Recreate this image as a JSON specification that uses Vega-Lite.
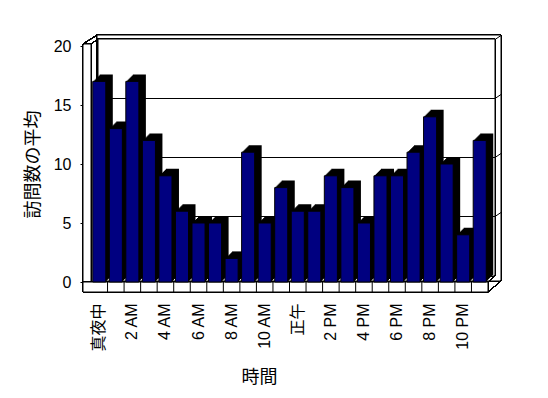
{
  "$schema": "https://vega.github.io/schema/vega-lite/v6.json",
  "width": 397,
  "height": 236,
  "autosize": "none",
  "padding": {"left": 91, "top": 46, "right": 60, "bottom": 116},
  "background": "white",
  "config": {"view": {"stroke": null}},
  "datasets": {
    "bars": [
      {"hour": "真夜中", "visits": 17},
      {"hour": "1 AM", "visits": 13},
      {"hour": "2 AM", "visits": 17},
      {"hour": "3 AM", "visits": 12},
      {"hour": "4 AM", "visits": 9},
      {"hour": "5 AM", "visits": 6},
      {"hour": "6 AM", "visits": 5},
      {"hour": "7 AM", "visits": 5},
      {"hour": "8 AM", "visits": 2},
      {"hour": "9 AM", "visits": 11},
      {"hour": "10 AM", "visits": 5},
      {"hour": "11 AM", "visits": 8},
      {"hour": "正午", "visits": 6},
      {"hour": "1 PM", "visits": 6},
      {"hour": "2 PM", "visits": 9},
      {"hour": "3 PM", "visits": 8},
      {"hour": "4 PM", "visits": 5},
      {"hour": "5 PM", "visits": 9},
      {"hour": "6 PM", "visits": 9},
      {"hour": "7 PM", "visits": 11},
      {"hour": "8 PM", "visits": 14},
      {"hour": "9 PM", "visits": 10},
      {"hour": "10 PM", "visits": 4},
      {"hour": "11 PM", "visits": 12}
    ],
    "grid": [{"v": 5}, {"v": 10}, {"v": 15}, {"v": 20}]
  },
  "layer": [
    {
      "data": {"name": "bars"},
      "mark": {"type": "rect", "fill": "white", "stroke": "black", "strokeWidth": 1, "xOffset": 6, "x2Offset": 13, "yOffset": -11, "y2Offset": -1},
      "encoding": {
        "x": {"datum": "真夜中", "type": "nominal", "bandPosition": 0},
        "x2": {"datum": "11 PM", "bandPosition": 1},
        "y": {"datum": 20, "type": "quantitative", "scale": {"domain": [0, 20], "nice": false}},
        "y2": {"datum": 0}
      }
    },
    {
      "data": {"name": "bars"},
      "mark": {"type": "rect", "fill": "white", "stroke": "black", "strokeWidth": 1, "xOffset": 7, "x2Offset": 7, "yOffset": -7, "y2Offset": -6},
      "encoding": {
        "x": {"datum": "真夜中", "type": "nominal", "bandPosition": 0},
        "x2": {"datum": "11 PM", "bandPosition": 1},
        "y": {"datum": 20, "type": "quantitative"},
        "y2": {"datum": 0}
      }
    },
    {
      "data": {"name": "grid"},
      "transform": [{"filter": "datum.v < 20"}],
      "mark": {"type": "rule", "color": "black", "strokeWidth": 1, "xOffset": 7, "x2Offset": 7, "yOffset": -6.5, "y2Offset": -6.5},
      "encoding": {
        "x": {"datum": "真夜中", "type": "nominal", "bandPosition": 0},
        "x2": {"datum": "11 PM", "bandPosition": 1},
        "y": {"field": "v", "type": "quantitative"},
        "y2": {"field": "v"}
      }
    },
    {
      "data": {"name": "grid"},
      "mark": {"type": "rule", "color": "black", "strokeWidth": 1, "xOffset": 7, "x2Offset": 13, "yOffset": -6.5, "y2Offset": -10.5},
      "encoding": {
        "x": {"datum": "11 PM", "type": "nominal", "bandPosition": 1},
        "x2": {"datum": "11 PM", "bandPosition": 1},
        "y": {"field": "v", "type": "quantitative"},
        "y2": {"field": "v"}
      }
    },
    {
      "data": {"name": "bars"},
      "mark": {"type": "rule", "color": "black", "strokeWidth": 1, "xOffset": 0, "x2Offset": 13, "yOffset": 10, "y2Offset": -1},
      "encoding": {
        "x": {"datum": "11 PM", "type": "nominal", "bandPosition": 1},
        "x2": {"datum": "11 PM", "bandPosition": 1},
        "y": {"datum": 0, "type": "quantitative"},
        "y2": {"datum": 0}
      }
    },
    {
      "data": {"name": "bars"},
      "mark": {"type": "rule", "color": "black", "strokeWidth": 1, "xOffset": 0, "x2Offset": 7, "yOffset": 0, "y2Offset": -6},
      "encoding": {
        "x": {"datum": "11 PM", "type": "nominal", "bandPosition": 1},
        "x2": {"datum": "11 PM", "bandPosition": 1},
        "y": {"datum": 0, "type": "quantitative"},
        "y2": {"datum": 0}
      }
    },
    {
      "data": {"name": "bars"},
      "mark": {"type": "rect", "fill": "white", "stroke": "black", "strokeWidth": 1, "xOffset": -8, "x2Offset": 0, "yOffset": -2, "y2Offset": 10},
      "encoding": {
        "x": {"datum": "真夜中", "type": "nominal", "bandPosition": 0},
        "x2": {"datum": "真夜中", "bandPosition": 0},
        "y": {"datum": 20, "type": "quantitative"},
        "y2": {"datum": 0}
      }
    },
    {
      "data": {"name": "bars"},
      "mark": {"type": "rule", "color": "black", "strokeWidth": 1, "xOffset": -8, "x2Offset": 6, "yOffset": -2, "y2Offset": -11},
      "encoding": {
        "x": {"datum": "真夜中", "type": "nominal", "bandPosition": 0},
        "x2": {"datum": "真夜中", "bandPosition": 0},
        "y": {"datum": 20, "type": "quantitative"},
        "y2": {"datum": 20}
      }
    },
    {
      "data": {"name": "bars"},
      "mark": {"type": "rule", "color": "black", "strokeWidth": 1, "xOffset": 0, "x2Offset": 7, "yOffset": -2, "y2Offset": -7},
      "encoding": {
        "x": {"datum": "真夜中", "type": "nominal", "bandPosition": 0},
        "x2": {"datum": "真夜中", "bandPosition": 0},
        "y": {"datum": 20, "type": "quantitative"},
        "y2": {"datum": 20}
      }
    },
    {
      "data": {"name": "bars"},
      "mark": {"type": "rect", "fill": "white", "stroke": "black", "strokeWidth": 1, "xOffset": -8, "x2Offset": 0, "yOffset": 0, "y2Offset": 10},
      "encoding": {
        "x": {"datum": "真夜中", "type": "nominal", "bandPosition": 0},
        "x2": {"datum": "11 PM", "bandPosition": 1},
        "y": {"datum": 0, "type": "quantitative"},
        "y2": {"datum": 0}
      }
    },
    {
      "data": {"name": "bars"},
      "transform": [{"filter": "datum.hour !== '真夜中'"}],
      "mark": {"type": "rule", "color": "black", "strokeWidth": 1, "y2Offset": 10},
      "encoding": {
        "x": {"field": "hour", "type": "nominal", "bandPosition": 0, "sort": null},
        "y": {"datum": 0, "type": "quantitative"},
        "y2": {"datum": 0}
      }
    },
    {
      "data": {"name": "bars"},
      "mark": {"type": "bar", "color": "black", "width": {"band": 0.79}, "xOffset": 1, "yOffset": -1, "y2Offset": -1},
      "encoding": {"x": {"field": "hour", "type": "nominal", "sort": null}, "y": {"field": "visits", "type": "quantitative"}}
    },
    {
      "data": {"name": "bars"},
      "mark": {"type": "bar", "color": "black", "width": {"band": 0.79}, "xOffset": 2, "yOffset": -2, "y2Offset": -2},
      "encoding": {"x": {"field": "hour", "type": "nominal", "sort": null}, "y": {"field": "visits", "type": "quantitative"}}
    },
    {
      "data": {"name": "bars"},
      "mark": {"type": "bar", "color": "black", "width": {"band": 0.79}, "xOffset": 3, "yOffset": -3, "y2Offset": -3},
      "encoding": {"x": {"field": "hour", "type": "nominal", "sort": null}, "y": {"field": "visits", "type": "quantitative"}}
    },
    {
      "data": {"name": "bars"},
      "mark": {"type": "bar", "color": "black", "width": {"band": 0.79}, "xOffset": 4, "yOffset": -4, "y2Offset": -4},
      "encoding": {"x": {"field": "hour", "type": "nominal", "sort": null}, "y": {"field": "visits", "type": "quantitative"}}
    },
    {
      "data": {"name": "bars"},
      "mark": {"type": "bar", "color": "black", "width": {"band": 0.79}, "xOffset": 5, "yOffset": -5, "y2Offset": -5},
      "encoding": {"x": {"field": "hour", "type": "nominal", "sort": null}, "y": {"field": "visits", "type": "quantitative"}}
    },
    {
      "data": {"name": "bars"},
      "mark": {"type": "bar", "color": "black", "width": {"band": 0.79}, "xOffset": 6, "yOffset": -6, "y2Offset": -6},
      "encoding": {"x": {"field": "hour", "type": "nominal", "sort": null}, "y": {"field": "visits", "type": "quantitative"}}
    },
    {
      "data": {"name": "bars"},
      "mark": {"type": "bar", "color": "black", "width": {"band": 0.79}, "xOffset": 7, "yOffset": -7, "y2Offset": -7},
      "encoding": {"x": {"field": "hour", "type": "nominal", "sort": null}, "y": {"field": "visits", "type": "quantitative"}}
    },
    {
      "data": {"name": "bars"},
      "mark": {"type": "bar", "fill": "#000080", "stroke": "black", "strokeWidth": 1, "width": {"band": 0.79}},
      "encoding": {
        "x": {
          "field": "hour",
          "type": "nominal",
          "sort": null,
          "scale": {"domain": ["真夜中", "1 AM", "2 AM", "3 AM", "4 AM", "5 AM", "6 AM", "7 AM", "8 AM", "9 AM", "10 AM", "11 AM", "正午", "1 PM", "2 PM", "3 PM", "4 PM", "5 PM", "6 PM", "7 PM", "8 PM", "9 PM", "10 PM", "11 PM"], "paddingInner": 0, "paddingOuter": 0},
          "axis": {
            "title": "時間",
            "values": ["真夜中", "2 AM", "4 AM", "6 AM", "8 AM", "10 AM", "正午", "2 PM", "4 PM", "6 PM", "8 PM", "10 PM"],
            "labelAngle": -90,
            "labelAlign": "right",
            "labelBaseline": "middle",
            "labelFont": "Liberation Sans, Noto Sans CJK JP",
            "labelFontSize": 16,
            "labelColor": "black",
            "labelPadding": 21,
            "ticks": false,
            "tickSize": 0,
            "domain": false,
            "grid": false,
            "titleFont": "Noto Sans CJK JP",
            "titleFontSize": 18,
            "titleFontWeight": "normal",
            "titleColor": "black",
            "titlePadding": 17,
            "titleX": 168
          }
        },
        "y": {
          "field": "visits",
          "type": "quantitative",
          "scale": {"domain": [0, 20], "nice": false},
          "axis": {
            "title": "訪問数の平均",
            "values": [0, 5, 10, 15, 20],
            "offset": 8,
            "domain": false,
            "grid": false,
            "tickSize": 3,
            "tickColor": "black",
            "labelFont": "Liberation Sans",
            "labelFontSize": 16,
            "labelColor": "black",
            "labelPadding": 9,
            "titleFont": "Noto Sans CJK JP",
            "titleFontSize": 18,
            "titleFontWeight": "normal",
            "titleColor": "black",
            "titlePadding": 11
          }
        }
      }
    }
  ]
}
